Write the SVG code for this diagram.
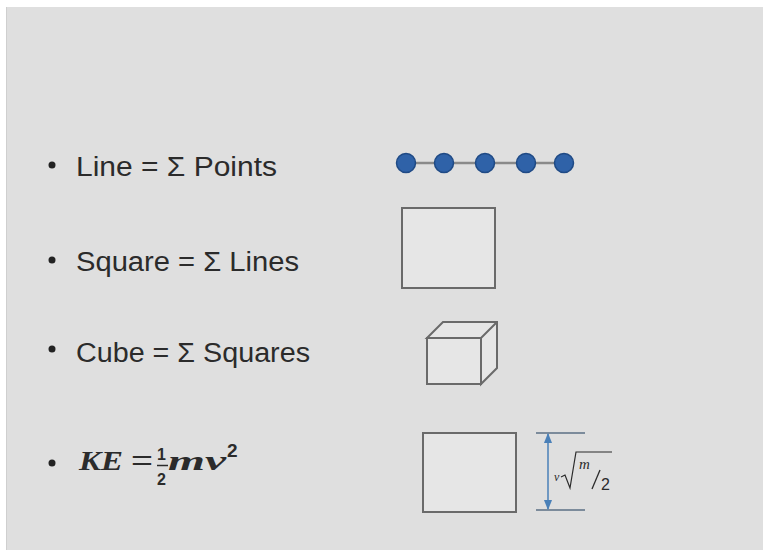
<svg xmlns="http://www.w3.org/2000/svg" width="763" height="550" viewBox="0 0 763 550">
<style>
.t{font-family:"Liberation Sans",Arial,sans-serif;font-size:27px;fill:#2b2b2b}
.m{font-family:"Liberation Serif","Times New Roman",serif;font-style:italic;fill:#2b2b2b}
.n{font-family:"Liberation Sans",Arial,sans-serif;fill:#2b2b2b}
.shape{fill:#e6e6e6;stroke:#6a6a6a;stroke-width:2}
.dot{fill:#2f62a8;stroke:#1f4a85;stroke-width:1.5}
.bul{fill:#222}
</style>
<defs>
<marker id="ah" viewBox="0 0 10 10" refX="9" refY="5" markerWidth="7" markerHeight="7" orient="auto-start-reverse">
<path d="M0,1 L10,5 L0,9 z" fill="#4a80b8"/>
</marker>
</defs>
<rect width="763" height="550" fill="#ffffff"/>
<rect x="6" y="7" width="757" height="543" fill="#dfdfdf"/>
<line x1="6.5" y1="7" x2="6.5" y2="550" stroke="#cfcfcf" stroke-width="1"/>

<g id="item-line">
<circle class="bul" cx="52" cy="165" r="3.5"/>
<text class="t" x="76" y="176" textLength="201" lengthAdjust="spacingAndGlyphs">Line = Σ Points</text>
</g>
<g id="item-square">
<circle class="bul" cx="52" cy="260" r="3.5"/>
<text class="t" x="76" y="271" textLength="223" lengthAdjust="spacingAndGlyphs">Square = Σ Lines</text>
</g>
<g id="item-cube">
<circle class="bul" cx="52" cy="349" r="3.5"/>
<text class="t" x="76" y="362" textLength="234" lengthAdjust="spacingAndGlyphs">Cube = Σ Squares</text>
</g>
<g id="item-ke">
<circle class="bul" cx="52" cy="463" r="3.5"/>
<text class="m" x="79" y="470" font-size="28" font-weight="bold" textLength="44" lengthAdjust="spacingAndGlyphs">KE</text>
<text class="n" x="131" y="470" font-size="28" textLength="22" lengthAdjust="spacingAndGlyphs">=</text>
<text class="n" x="157" y="460" font-size="16" font-weight="bold">1</text>
<line x1="157" y1="465.5" x2="168" y2="465.5" stroke="#2b2b2b" stroke-width="1.5"/>
<text class="n" x="157" y="485" font-size="16" font-weight="bold">2</text>
<text class="m" x="168" y="470" font-size="28" font-weight="bold" textLength="58" lengthAdjust="spacingAndGlyphs">mv</text>
<text class="n" x="227" y="457" font-size="19" font-weight="bold">2</text>
</g>

<g id="points">
<line x1="406" y1="163" x2="564" y2="163" stroke="#8a8a8a" stroke-width="2.5"/>
<circle class="dot" cx="406" cy="163" r="9.5"/>
<circle class="dot" cx="444" cy="163" r="9.5"/>
<circle class="dot" cx="485" cy="163" r="9.5"/>
<circle class="dot" cx="526" cy="163" r="9.5"/>
<circle class="dot" cx="564" cy="163" r="9.5"/>
</g>

<g id="square">
<rect class="shape" x="402" y="208" width="93" height="80"/>
</g>

<g id="cube">
<path class="shape" d="M427,338 L443,322 L497,322 L497,368 L481,384 L481,338 Z"/>
<path d="M427,338 L481,338 L497,322" fill="none" stroke="#6a6a6a" stroke-width="2"/>
<rect class="shape" x="427" y="338" width="54" height="46"/>
</g>

<g id="ke-square">
<rect class="shape" x="423" y="433" width="93" height="79"/>
</g>

<g id="connectors">
<line x1="536" y1="433" x2="585" y2="433" stroke="#5b6f85" stroke-width="1.5"/>
<line x1="536" y1="510" x2="585" y2="510" stroke="#5b6f85" stroke-width="1.5"/>
<line x1="548" y1="434" x2="548" y2="509" stroke="#4a80b8" stroke-width="1.5" marker-start="url(#ah)" marker-end="url(#ah)"/>
</g>

<g id="dimension-label">
<text class="m" x="554" y="481" font-size="12">v</text>
<path d="M561,477 L565,475 L570,488 L576,452 L612,452" fill="none" stroke="#2b2b2b" stroke-width="1.2"/>
<text class="m" x="579" y="469" font-size="15">m</text>
<line x1="592" y1="489" x2="600" y2="470" stroke="#2b2b2b" stroke-width="1.3"/>
<text class="n" x="601" y="490" font-size="16">2</text>
</g>
</svg>
